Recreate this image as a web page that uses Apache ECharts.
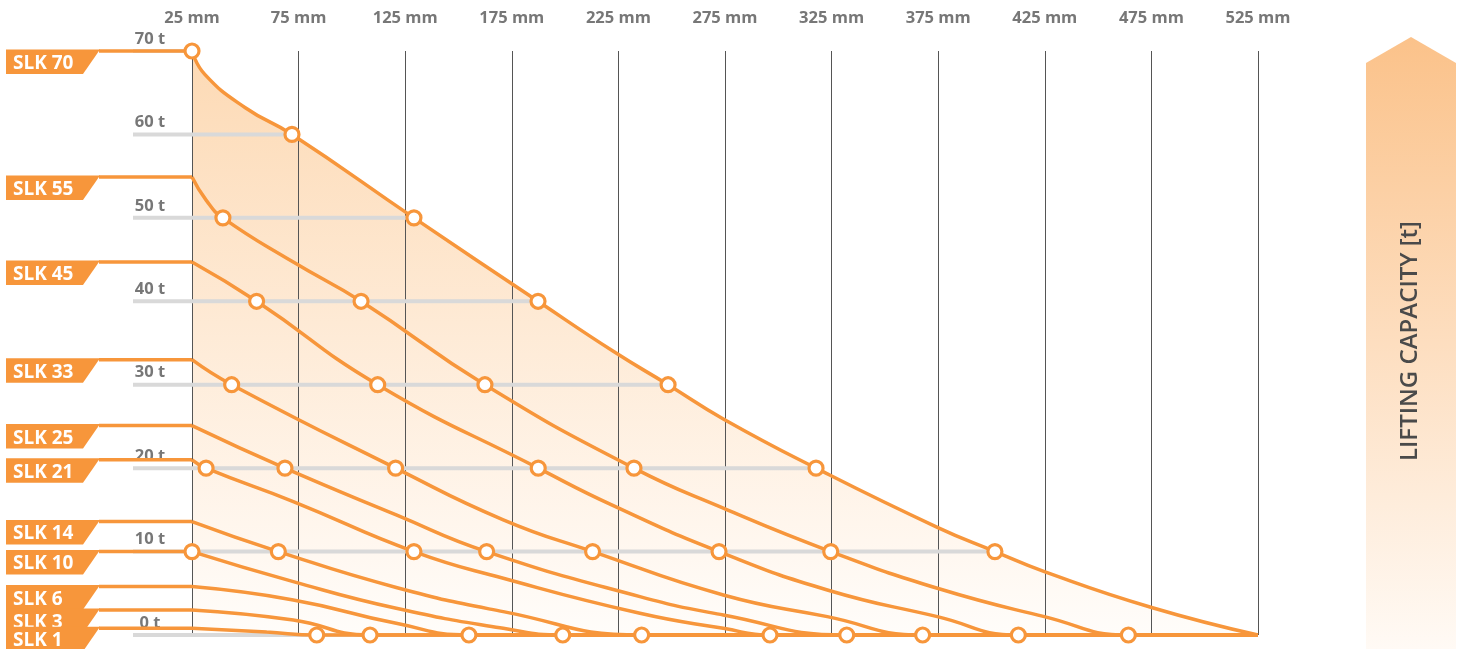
<!DOCTYPE html>
<html>
<head>
<meta charset="utf-8">
<script src="https://cdn.jsdelivr.net/npm/echarts@6/dist/echarts.min.js"></script>
<style>
html,body{margin:0;padding:0;background:#fff;}
#chart{width:1463px;height:649px;}
</style>
</head>
<body>
<div id="chart"></div>
<script>
// ---------- data (mm, t) ----------
const xTicks = [25, 75, 125, 175, 225, 275, 325, 375, 425, 475, 525];
const yTicks = [0, 10, 20, 30, 40, 50, 60, 70];
const seriesNames = ['SLK 70', 'SLK 55', 'SLK 45', 'SLK 33', 'SLK 25', 'SLK 21', 'SLK 14', 'SLK 10', 'SLK 6', 'SLK 3', 'SLK 1'];
const capacities = [70, 54.9, 44.7, 33, 25.1, 21, 13.6, 10, 5.8, 3.0, 0.8];

const slk70 = [[25,70],[31,67.2],[50,63.2],[71.9,60],[129.1,50],[187.3,40],[222.6,34.0],[248.3,30],[274.2,25.9],[317.7,20],[374.6,12.9],[401.6,10],[424.8,7.6],[475.1,3.3],[525,0]];
const slk55 = [[25,54.9],[31.7,52.1],[39.5,50],[72.5,44.7],[104.3,40],[162.4,30],[232.3,20],[274.2,15.2],[324.6,10],[374.6,5.6],[424.8,2.2],[464.2,0],[525,0]];
const slk45 = [[25,44.7],[55.3,40],[112.1,30],[187.4,20],[222.6,15.5],[272.2,10],[323,5.4],[374.6,2.2],[412.6,0],[525,0]];
const slk33 = [[25,33],[43.6,30],[120.5,20],[171,13.8],[212.9,10],[274.2,4.8],[323,2.2],[367.7,0],[525,0]];
const slk25 = [[25,25.1],[68.6,20],[120.8,14.4],[163.2,10],[235.1,4.6],[274.2,2.4],[332.1,0],[525,0]];
const slk21 = [[25,21],[31.6,20],[72.5,16.0],[129.1,10],[171,6.8],[235.1,2.6],[274.2,0.8],[296.1,0],[525,0]];
const slk14 = [[25,13.6],[65.5,10],[120.8,5.7],[171,2.8],[235.9,0],[525,0]];
const slk10 = [[25,10],[72.5,6.4],[120.8,3.2],[171,0.8],[198.9,0],[525,0]];
const slk6  = [[25,5.8],[72.5,4.2],[120.8,1.4],[154.9,0],[525,0]];
const slk3  = [[25,3.0],[72.5,1.8],[108.5,0],[525,0]];
const slk1  = [[25,0.8],[60,0.35],[83.5,0],[525,0]];

const curves = [slk70, slk55, slk45, slk33, slk25, slk21, slk14, slk10, slk6, slk3, slk1];

// ---------- styles ----------
const ORANGE = '#f7963b';
const FONT = '"Open Sans", "Noto Sans", sans-serif';
const X_MIN = xTicks[0], X_MAX = xTicks[xTicks.length - 1];

// grey level lines end where the outer (SLK 70) curve crosses that level
const greyLines = yTicks.map(t => {
  const hit = slk70.find(p => p[1] === t);
  return [hit ? hit[0] : X_MAX, t];
});

// marker points: crossings of every 10 t level (not the tail end)
const markers = [];
curves.forEach(c => c.forEach(p => {
  if (p[1] % 10 === 0 && p[0] < X_MAX) markers.push(p);
}));

const labelData = capacities.map(c => [X_MIN, c]);

const chart = echarts.init(document.getElementById('chart'), null, {renderer: 'canvas'});

const series = [];

// filled area under SLK 70
series.push({
  type: 'line', name: 'area', data: slk70, smooth: true, symbol: 'none',
  lineStyle: {width: 0}, z: 1, silent: true, clip: false,
  areaStyle: {
    color: new echarts.graphic.LinearGradient(0, 0, 0, 1, [
      {offset: 0, color: '#fbc994'},
      {offset: 0.5, color: '#fde2c6'},
      {offset: 1, color: '#fffbf7'}
    ])
  }
});

// grey level lines
series.push({
  type: 'custom', name: 'levels', data: greyLines, z: 4, silent: true,
  renderItem: function (params, api) {
    const t = api.value(1);
    const s = api.coord([X_MIN, t]);
    const e = api.coord([api.value(0), t]);
    return {
      type: 'line',
      shape: {x1: s[0] - 59, y1: s[1], x2: e[0], y2: e[1]},
      style: {stroke: '#d9d9d9', lineWidth: 4}
    };
  }
});

// curves
curves.forEach((c, i) => {
  series.push({
    type: 'line', name: seriesNames[i], data: c, smooth: true,
    symbol: 'none', clip: false, z: 5,
    lineStyle: {color: ORANGE, width: 3.5},
    silent: true
  });
});

// markers
series.push({
  type: 'scatter', name: 'markers', data: markers, symbol: 'circle', symbolSize: 14,
  itemStyle: {color: '#fff', borderColor: ORANGE, borderWidth: 3.2, opacity: 1},
  z: 10, clip: false, silent: true
});

// SLK tags with lead lines
series.push({
  type: 'custom', name: 'tags', data: labelData, z: 8, silent: true,
  renderItem: function (params, api) {
    const p = api.coord([api.value(0), api.value(1)]);
    const x = p[0], y = p[1];
    return {
      type: 'group',
      children: [
        {type: 'polygon', shape: {points: [[x - 186, y - 1.5], [x - 92, y - 1.5], [x - 109, y + 23], [x - 186, y + 23]]},
         style: {fill: ORANGE}},
        {type: 'line', shape: {x1: x - 93, y1: y, x2: x, y2: y}, style: {stroke: ORANGE, lineWidth: 3.5}},
        {type: 'text', style: {text: seriesNames[params.dataIndex], x: x - 179, y: y + 12.5,
          fill: '#fff', fontSize: 19, fontWeight: 'bold', fontFamily: FONT, align: 'left', verticalAlign: 'middle'}}
      ]
    };
  }
});

chart.setOption({
  animation: false,
  grid: {left: 192, right: 205, top: 51, bottom: 14},
  xAxis: {
    type: 'value', position: 'top', min: X_MIN, max: X_MAX, interval: 50, z: 3,
    axisLine: {show: false}, axisTick: {show: false},
    axisLabel: {formatter: '{value} mm', color: '#777', fontSize: 16.5, fontWeight: 'bold', fontFamily: FONT, margin: 24},
    splitLine: {show: true, lineStyle: {color: '#555', width: 1}}
  },
  yAxis: {
    type: 'value', min: 0, max: 70, interval: 10,
    axisLine: {show: false}, axisTick: {show: false}, splitLine: {show: false},
    axisLabel: {formatter: '{value} t', color: '#777', fontSize: 16.5, fontWeight: 'bold', fontFamily: FONT,
      margin: 42, align: 'center', verticalAlign: 'bottom', lineHeight: 16, padding: [0, 0, 4, 0]}
  },
  graphic: [
    {type: 'polygon', silent: true, z: 0,
     shape: {points: [[1366, 63], [1411, 37], [1456, 63], [1456, 649], [1366, 649]]},
     style: {fill: new echarts.graphic.LinearGradient(0, 0, 0, 1, [
       {offset: 0, color: '#fbc28a'}, {offset: 1, color: '#fffaf5'}])}},
    {type: 'text', silent: true, z: 1, x: 1410, y: 341, rotation: Math.PI / 2,
     style: {text: 'LIFTING CAPACITY [t]', fill: '#4a4a4a', fontSize: 24, fontWeight: 600, fontFamily: FONT,
       align: 'center', verticalAlign: 'middle'}}
  ],
  series: series
});
</script>
</body>
</html>
